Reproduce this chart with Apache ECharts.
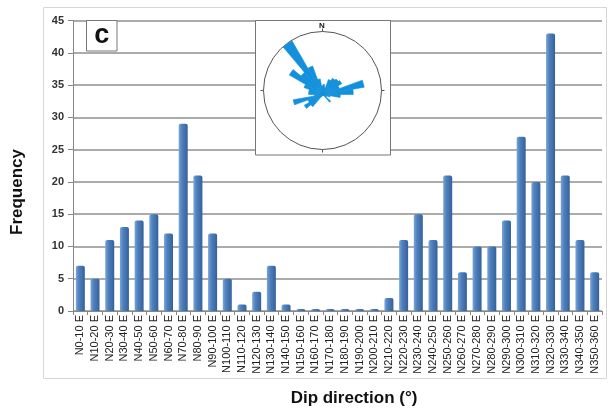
<!DOCTYPE html>
<html>
<head>
<meta charset="utf-8">
<script src="https://cdn.jsdelivr.net/npm/echarts@6/dist/echarts.min.js"></script>
<style>
  html, body { margin: 0; padding: 0; background: #fff; }
  #chart { width: 611px; height: 412px; }
</style>
</head>
<body>
<div id="chart"></div>
<script>
// Dip-direction classes (10° bins)
const categories = [
  'N0-10 E', 'N10-20 E', 'N20-30 E', 'N30-40 E', 'N40-50 E', 'N50-60 E',
  'N60-70 E', 'N70-80 E', 'N80-90 E', 'N90-100 E', 'N100-110 E', 'N110-120 E',
  'N120-130 E', 'N130-140 E', 'N140-150 E', 'N150-160 E', 'N160-170 E', 'N170-180 E',
  'N180-190 E', 'N190-200 E', 'N200-210 E', 'N210-220 E', 'N220-230 E', 'N230-240 E',
  'N240-250 E', 'N250-260 E', 'N260-270 E', 'N270-280 E', 'N280-290 E', 'N290-300 E',
  'N300-310 E', 'N310-320 E', 'N320-330 E', 'N330-340 E', 'N340-350 E', 'N350-360 E'
];

// Number of measurements per class
const frequency = [
  7, 5, 11, 13, 14, 15, 12, 29, 21, 12, 5, 1,
  3, 7, 1, 0, 0, 0, 0, 0, 0, 2, 11, 15,
  11, 21, 6, 10, 10, 14, 27, 20, 43, 21, 11, 6
];

const yTicks = { min: 0, max: 45, step: 5 };

const chart = echarts.init(document.getElementById('chart'), null, { renderer: 'canvas' });

const barFill = new echarts.graphic.LinearGradient(0, 0, 1, 0, [
  { offset: 0, color: '#7aa5d8' },
  { offset: 0.35, color: '#4f81bd' },
  { offset: 1, color: '#35619a' }
]);

const FONT = 'Liberation Sans, Arial, sans-serif';
const hiddenRadius = {
  axisLine: { show: false }, axisTick: { show: false },
  axisLabel: { show: false }, splitLine: { show: false }
};

chart.setOption({
  animation: false,
  backgroundColor: '#fff',
  grid: { left: 73, right: 9, top: 20.5, bottom: 101, containLabel: false },
  xAxis: {
    type: 'category',
    data: categories,
    axisLine: { lineStyle: { color: '#888', width: 1 } },
    axisTick: { show: true, alignWithLabel: false, length: 4, lineStyle: { color: '#888' } },
    axisLabel: {
      interval: 0, rotate: 90, fontSize: 11, color: '#222',
      fontFamily: FONT, margin: 4
    }
  },
  yAxis: {
    type: 'value',
    min: yTicks.min, max: yTicks.max, interval: yTicks.step,
    axisLine: { show: true, lineStyle: { color: '#888', width: 1 } },
    axisTick: { show: true, length: 5, lineStyle: { color: '#888' } },
    splitLine: { lineStyle: { color: '#8f8f8f', width: 1.5 } },
    axisLabel: {
      fontSize: 11, color: '#333', fontWeight: 'bold', margin: 9,
      fontFamily: FONT
    }
  },
  // polar 0: the compass circle; polar 1: the rose petals
  polar: [
    { center: [322.5, 90.5], radius: 59 },
    { center: [323, 94.5], radius: 62 }
  ],
  angleAxis: [
    {
      type: 'category', data: categories, startAngle: 90, clockwise: true,
      polarIndex: 0, z: 3,
      axisLine: { show: true, lineStyle: { color: '#555', width: 1 } },
      axisTick: { show: true, interval: 8, length: 3, lineStyle: { color: '#555' } },
      axisLabel: { show: false }, splitLine: { show: false }
    },
    {
      type: 'category', data: categories, startAngle: 90, clockwise: true,
      polarIndex: 1, z: 3,
      axisLine: { show: false }, axisTick: { show: false },
      axisLabel: { show: false }, splitLine: { show: false }
    }
  ],
  radiusAxis: [
    Object.assign({ type: 'value', min: 0, max: 43, polarIndex: 0, z: 3 }, hiddenRadius),
    Object.assign({ type: 'value', min: 0, max: 43, polarIndex: 1, z: 3 }, hiddenRadius)
  ],
  graphic: [
    // outer chart frame
    { type: 'rect', z: 0, silent: true,
      shape: { x: 43.5, y: 7.5, width: 563, height: 371 },
      style: { fill: null, stroke: '#d6d6d6', lineWidth: 1 } },
    // inset panel holding the rose diagram
    { type: 'rect', z: 1, silent: true,
      shape: { x: 255.5, y: 20.5, width: 135, height: 134.5 },
      style: { fill: '#fff', stroke: '#777', lineWidth: 1 } },
    // panel letter
    { type: 'rect', z: 1, silent: true,
      shape: { x: 86.5, y: 20.5, width: 30.5, height: 30.5 },
      style: { fill: '#fff', stroke: '#777', lineWidth: 1 } },
    { type: 'text', z: 5, silent: true,
      style: { x: 101.8, y: 36, text: 'c', textAlign: 'center', textVerticalAlign: 'middle',
        font: 'bold 27px ' + FONT, fill: '#111' } },
    { type: 'text', z: 5, silent: true,
      style: { x: 322, y: 25.5, text: 'N', textAlign: 'center', textVerticalAlign: 'middle',
        font: 'bold 8px ' + FONT, fill: '#111' } },
    // axis titles
    { type: 'text', z: 5, silent: true,
      x: 17, y: 192, rotation: Math.PI / 2,
      style: { x: 0, y: 0, text: 'Frequency', textAlign: 'center', textVerticalAlign: 'middle',
        font: 'bold 17px ' + FONT, fill: '#111' } },
    { type: 'text', z: 5, silent: true,
      style: { x: 354, y: 398, text: 'Dip direction (°)', textAlign: 'center', textVerticalAlign: 'middle',
        font: 'bold 17px ' + FONT, fill: '#111' } }
  ],
  series: [
    {
      type: 'bar',
      xAxisIndex: 0, yAxisIndex: 0,
      data: frequency,
      barWidth: 9,
      barMinHeight: 2,
      itemStyle: { color: barFill, borderRadius: [2, 2, 0, 0] },
      z: 2
    },
    {
      type: 'bar',
      coordinateSystem: 'polar',
      polarIndex: 1,
      data: frequency,
      barWidth: '100%',
      barCategoryGap: '0%',
      itemStyle: { color: '#1290dc', borderWidth: 0.6, borderColor: '#1290dc' },
      z: 4
    }
  ]
});
</script>
</body>
</html>
